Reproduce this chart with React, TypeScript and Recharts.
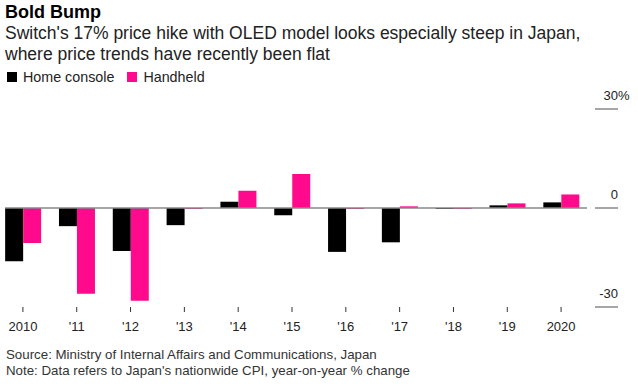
import React from 'react';
import { BarChart, Bar, XAxis, YAxis, ReferenceLine } from 'recharts';

const years = ['2010', "'11", "'12", "'13", "'14", "'15", "'16", "'17", "'18", "'19", '2020'];
const homeConsole = [-16.1, -5.5, -13.0, -5.2, 1.9, -2.2, -13.3, -10.4, -0.3, 0.8, 1.7];
const handheld = [-10.6, -26.0, -28.1, -0.3, 5.2, 10.3, -0.3, 0.5, -0.3, 1.4, 4.1];
const yTicks = [-30, 0, 30];

const BLACK = '#000000';
const PINK = '#ff0a8c';
const FONT = '"Liberation Sans", Arial, sans-serif';

const data = years.map((year, i) => ({
  year,
  'Home console': homeConsole[i],
  Handheld: handheld[i],
}));

// right-hand axis: short gray rule with the label sitting above it
const RightTick = (props: any) => {
  const { x, y, payload } = props;
  const v = payload.value;
  return (
    <g>
      <line x1={x} x2={x + 23} y1={y} y2={y} stroke="#888" strokeWidth={1.5} />
      <text x={x + 23} y={y - 9} textAnchor="end" fontSize={13} fill="#222" fontFamily={FONT}>
        {v}
      </text>
      {v === 30 && (
        <text x={x + 23} y={y - 9} textAnchor="start" fontSize={13} fill="#222" fontFamily={FONT}>
          %
        </text>
      )}
    </g>
  );
};

const LegendItem = ({ color, label }: { color: string; label: string }) => (
  <span style={{ display: 'inline-flex', alignItems: 'center', marginRight: 13 }}>
    <span style={{ width: 10, height: 10, background: color, display: 'inline-block', marginRight: 6 }} />
    {label}
  </span>
);

export default function App() {
  return (
    <div style={{ position: 'absolute', left: 0, top: 0, width: 638, height: 384, background: '#fff', fontFamily: FONT, overflow: 'hidden' }}>
      <BarChart
        width={638}
        height={384}
        data={data}
        margin={{ top: 109, right: 0, bottom: 47, left: 5 }}
        barCategoryGap="17%"
        barGap={0}
      >
        <XAxis
          dataKey="year"
          axisLine={false}
          tickLine={{ stroke: '#333' }}
          tickSize={5}
          tickMargin={10}
          height={30}
          interval={0}
          padding={{ left: -9, right: -1 }}
          tick={{ fontSize: 13, fill: '#222', fontFamily: FONT }}
        />
        <YAxis
          orientation="right"
          width={51}
          domain={[-30, 30]}
          ticks={yTicks}
          axisLine={false}
          tickLine={false}
          tick={<RightTick />}
        />
        <ReferenceLine y={0} stroke="#888" strokeWidth={1.5} />
        <Bar dataKey="Home console" fill={BLACK} isAnimationActive={false} />
        <Bar dataKey="Handheld" fill={PINK} isAnimationActive={false} />
      </BarChart>

      <div style={{ position: 'absolute', left: 5, top: 2, fontSize: 18, fontWeight: 700, color: '#000', lineHeight: '20px' }}>
        Bold Bump
      </div>
      <div style={{ position: 'absolute', left: 5, top: 23, width: 630, fontSize: 17.5, color: '#222', lineHeight: '21px' }}>
        Switch's 17% price hike with OLED model looks especially steep in Japan,
        <br />
        where price trends have recently been flat
      </div>
      <div style={{ position: 'absolute', left: 7, top: 69, fontSize: 14.3, color: '#222', lineHeight: '16px', display: 'flex' }}>
        <LegendItem color={BLACK} label="Home console" />
        <LegendItem color={PINK} label="Handheld" />
      </div>
      <div style={{ position: 'absolute', left: 6, top: 347, fontSize: 13.3, color: '#333', lineHeight: '16px' }}>
        Source: Ministry of Internal Affairs and Communications, Japan
        <br />
        Note: Data refers to Japan's nationwide CPI, year-on-year % change
      </div>
    </div>
  );
}
